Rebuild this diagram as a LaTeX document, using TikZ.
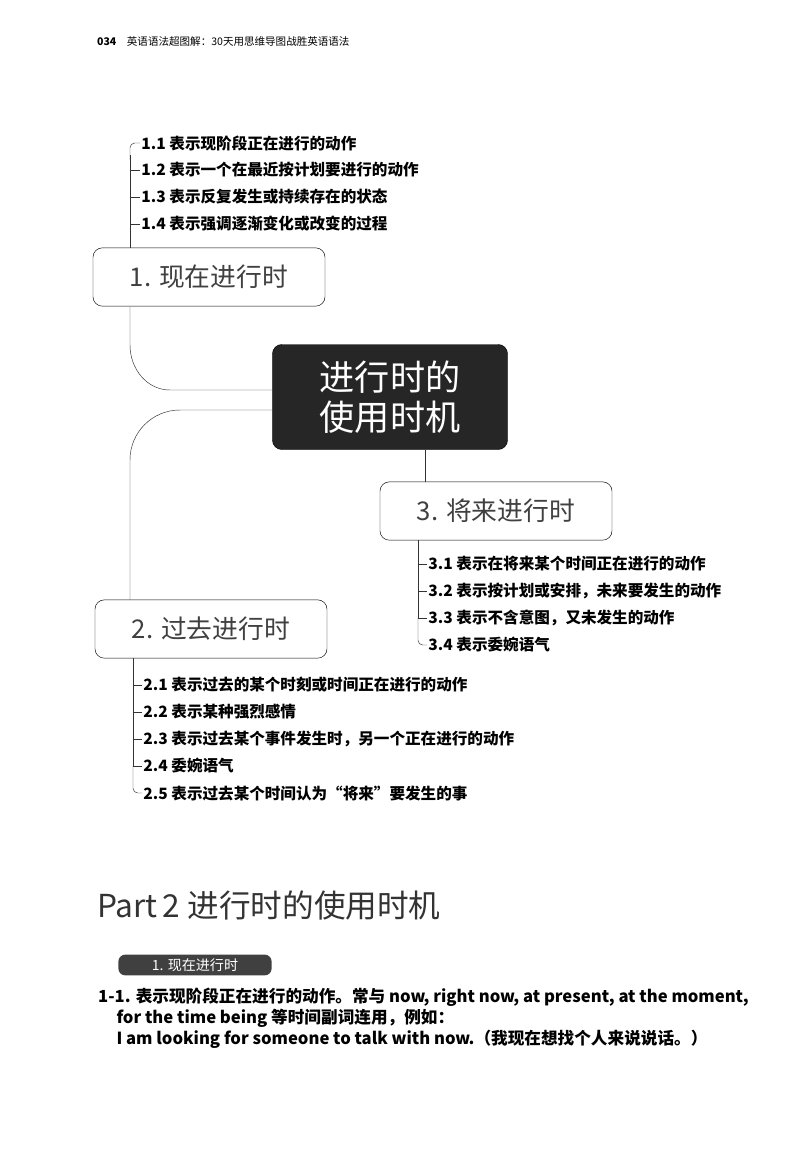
\documentclass[tikz,border=0pt]{standalone}
\usepackage{fontspec}
\setmainfont{Noto Sans CJK SC}
\begin{document}
\begin{tikzpicture}[x=0.03cm,y=-0.03cm,
  topic/.style={draw, rounded corners=8pt, minimum width=6.96cm, minimum height=1.75cm, font=\fontsize{22}{24}\selectfont, text=black!75},
  center/.style={draw, fill=black!85, rounded corners=8pt, minimum width=7.05cm, minimum height=3.15cm, text=white, align=center, font=\fontsize{30}{34}\selectfont},
  item/.style={anchor=west, font=\fontsize{13.3}{15}\selectfont\bfseries, inner sep=1pt},
  branch/.style={draw, black!80, thin}]
\useasboundingbox (0,0) rectangle (800,1175);
\node[anchor=west, font=\fontsize{9}{10}\selectfont] (head) at (93,42) {\textbf{034}\quad 英语语法超图解：30天用思维导图战胜英语语法};
\node[center] (c) at (390,397) {进行时的\\使用时机};
\node[topic] (t1) at (209,277) {1. 现在进行时};
\node[topic] (t2) at (211,629) {2. 过去进行时};
\node[topic] (t3) at (496,511) {3. 将来进行时};
% 1
\node[item] (a1) at (140,143) {1.1 表示现阶段正在进行的动作};
\node[item] (a2) at (140,170) {1.2 表示一个在最近按计划要进行的动作};
\node[item] (a3) at (140,197) {1.3 表示反复发生或持续存在的状态};
\node[item] (a4) at (140,224) {1.4 表示强调逐渐变化或改变的过程};
% 3
\node[item] (c1) at (427,564) {3.1 表示在将来某个时间正在进行的动作};
\node[item] (c2) at (427,591) {3.2 表示按计划或安排，未来要发生的动作};
\node[item] (c3) at (427,618) {3.3 表示不含意图，又未发生的动作};
\node[item] (c4) at (427,645) {3.4 表示委婉语气};
% 2
\node[item] (b1) at (142,685) {2.1 表示过去的某个时刻或时间正在进行的动作};
\node[item] (b2) at (142,712) {2.2 表示某种强烈感情};
\node[item] (b3) at (142,739) {2.3 表示过去某个事件发生时，另一个正在进行的动作};
\node[item] (b4) at (142,766) {2.4 委婉语气};
\node[item] (b5) at (142,793) {2.5 表示过去某个时间认为“将来”要发生的事};
% branches
\draw[branch, rounded corners=4] (a1.west) -- (130,143) -- (130,160);
\draw[branch] (130,155) |- (a2.west) (130,170) |- (a3.west) (130,197) |- (a4.west) (130,224) -- (t1.north -| 130,0);
\draw[branch] (130,307) -- (130,345) to[out=-90,in=180] (170,390) -- (c.west |- 0,390);
\draw[branch] (c.west |- 0,410) -- (180,410) to[out=180,in=90] (130,460) -- (t2.north -| 130,0);
\draw[branch] (t2.south -| 133,0) |- (b1.west) (133,685) |- (b2.west) (133,712) |- (b3.west) (133,739) |- (b4.west);
\draw[branch, rounded corners=4] (133,766) -- (133,793) -- (b5.west);
\draw[branch] (c.south -| 425,0) -- (t3.north -| 425,0);
\draw[branch] (t3.south -| 418,0) |- (c1.west) (418,564) |- (c2.west) (418,591) |- (c3.west);
\draw[branch, rounded corners=4] (418,618) -- (418,645) -- (c4.west);
% part 2
\node[anchor=west, font=\fontsize{27}{30}\selectfont, text=black!80] (part) at (93,905) {Part\,2 进行时的使用时机};
\node[fill=black!75, rounded corners=6pt, text=white, minimum width=4.6cm, minimum height=0.6cm, font=\fontsize{12}{14}\selectfont] (pill) at (195,965) {1. 现在进行时};
\node[anchor=north west, align=left, font=\fontsize{14.2}{18}\selectfont\bfseries, inner sep=0pt] (para) at (98,988) {1-1. 表示现阶段正在进行的动作。常与 now, right now, at present, at the moment,\\\hspace{1.1em}for the time being 等时间副词连用，例如：\\\hspace{1.1em}I am looking for someone to talk with now.（我现在想找个人来说说话。）};
\end{tikzpicture}
\end{document}
